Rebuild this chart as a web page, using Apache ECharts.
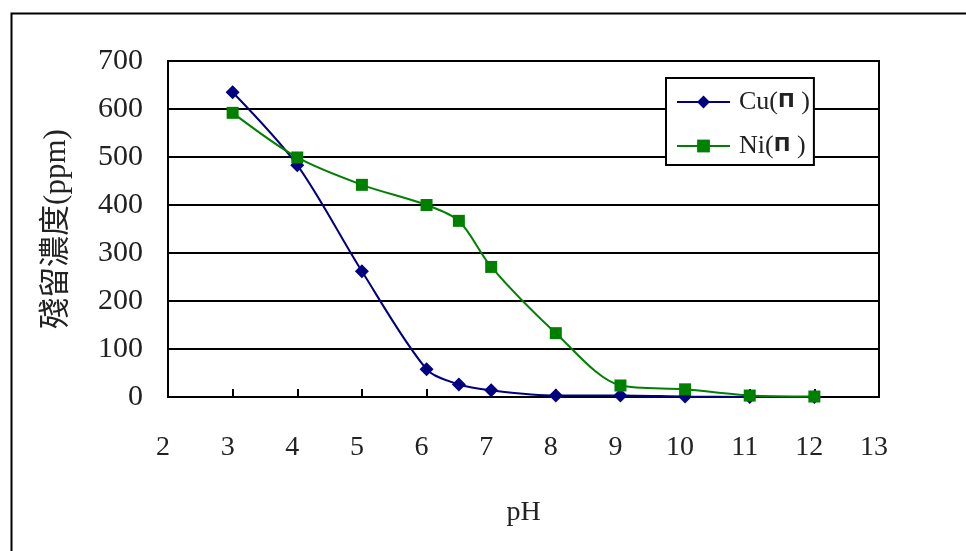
<!DOCTYPE html>
<html>
<head>
<meta charset="utf-8">
<script src="https://cdn.jsdelivr.net/npm/echarts@6/dist/echarts.min.js"></script>
<style>html,body{margin:0;padding:0;background:#fff}#c{width:966px;height:551px}</style>
</head>
<body>
<div id="c"></div>
<script>
const pH = [3, 4, 5, 6, 6.5, 7, 8, 9, 10, 11, 12];
const cuValues = [635, 483, 262, 58, 26, 14, 3, 3, 1, 0, 0];
const niValues = [592, 499, 442, 400, 367, 271, 133, 24, 16, 3, 1];
const seriesNames = ['Cu(Π )', 'Ni(Π )'];
const xTitle = 'pH';
const yTitle = '殘留濃度(ppm)';

const serif = '"Liberation Serif", "Times New Roman", serif';
const chart = echarts.init(document.getElementById('c'));
const pairs = vals => pH.map((x, i) => [x, vals[i]]);

chart.setOption({
  animation: false,
  backgroundColor: '#fff',
  graphic: [{
    type: 'rect', left: 9, top: 11, z: -1,
    shape: { width: 1000, height: 600 },
    style: { fill: 'none', stroke: '#000', lineWidth: 2 }
  }],
  grid: { left: 168, top: 61, right: 87, bottom: 154, show: true, borderColor: '#000', borderWidth: 2, backgroundColor: 'transparent' },
  legend: {
    orient: 'vertical', left: 666, top: 78,
    padding: [9, 4, 4, 10],
    itemGap: 14,
    itemWidth: 53, itemHeight: 16,
    backgroundColor: '#fff',
    borderColor: '#000', borderWidth: 2, borderRadius: 0,
    formatter: n => {
      const p = n.split('Π');
      return '{a|' + p[0] + '}{b|Π}{a|' + p[1] + '}';
    },
    textStyle: {
      padding: [0, 0, 0, 4],
      lineHeight: 30,
      rich: {
        a: { fontFamily: serif, fontSize: 26, color: '#222', lineHeight: 30 },
        b: { fontFamily: '"DejaVu Sans", sans-serif', fontWeight: 'bold', fontSize: 20, color: '#222', lineHeight: 30 }
      }
    },
    data: seriesNames
  },
  xAxis: {
    type: 'value', min: 2, max: 13, interval: 1,
    name: xTitle, nameLocation: 'middle', nameGap: 102,
    nameTextStyle: { fontFamily: serif, fontSize: 28, color: '#222' },
    axisLine: { show: true, lineStyle: { color: '#000', width: 2 } },
    axisTick: { show: true, inside: true, length: 8, lineStyle: { color: '#000', width: 2 } },
    axisLabel: { margin: 37, padding: [0, 10, 0, 0], fontFamily: serif, fontSize: 28, color: '#222' },
    splitLine: { show: false }
  },
  yAxis: {
    type: 'value', min: 0, max: 700, interval: 100,
    name: yTitle, nameLocation: 'middle', nameGap: 96,
    nameTextStyle: { fontFamily: serif + ', "Noto Sans CJK TC"', fontSize: 31, color: '#222' },
    axisLine: { show: true, lineStyle: { color: '#000', width: 2 } },
    axisTick: { show: false },
    axisLabel: { margin: 25, fontFamily: serif, fontSize: 30, color: '#222' },
    splitLine: { show: true, lineStyle: { color: '#000', width: 2 } }
  },
  series: [{
    name: seriesNames[0], type: 'line', smooth: 0.3,
    data: pairs(cuValues),
    symbol: 'diamond', symbolSize: 14,
    itemStyle: { color: '#000080' },
    lineStyle: { color: '#000080', width: 2 },
    z: 3
  }, {
    name: seriesNames[1], type: 'line', smooth: 0.3,
    data: pairs(niValues),
    symbol: 'rect', symbolSize: 12,
    itemStyle: { color: '#008000' },
    lineStyle: { color: '#008000', width: 2 },
    z: 4
  }]
});
</script>
</body>
</html>
